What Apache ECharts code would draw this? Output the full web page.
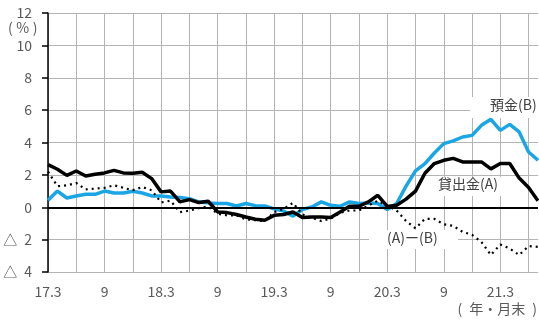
<!DOCTYPE html>
<html>
<head>
<meta charset="utf-8">
<script src="https://cdn.jsdelivr.net/npm/echarts@6/dist/echarts.min.js"></script>
<style>
  html, body { margin: 0; padding: 0; background: #fff; }
  #chart { width: 539px; height: 324px; }
</style>
</head>
<body>
<div id="chart"></div>
<script>
// Month-end points, 2017/3 – 2021/7 (labels shown every six months)
const months = [
  '17.3','4','5','6','7','8','9','10','11','12',
  '1','2','18.3','4','5','6','7','8','9','10','11','12',
  '1','2','19.3','4','5','6','7','8','9','10','11','12',
  '1','2','20.3','4','5','6','7','8','9','10','11','12',
  '1','2','21.3','4','5','6','7'
];

// 貸出金 (A), year-on-year %
const loans = [
  2.63, 2.35, 1.97, 2.24, 1.93, 2.04, 2.12, 2.28, 2.12, 2.10,
  2.16, 1.77, 0.95, 1.00, 0.33, 0.47, 0.29, 0.37, -0.29, -0.33, -0.45, -0.60,
  -0.74, -0.80, -0.50, -0.45, -0.29, -0.64, -0.60, -0.60, -0.64, -0.29, 0.06, 0.06,
  0.33, 0.74, 0.05, 0.12, 0.50, 1.00, 2.10, 2.70, 2.90, 3.02, 2.80, 2.80,
  2.80, 2.37, 2.70, 2.70, 1.80, 1.22, 0.40
];

// 預金 (B), year-on-year %
const deposits = [
  0.43, 1.00, 0.57, 0.70, 0.80, 0.80, 1.00, 0.88, 0.88, 0.99,
  0.88, 0.70, 0.70, 0.64, 0.60, 0.53, 0.33, 0.27, 0.23, 0.23, 0.08, 0.23,
  0.10, 0.08, -0.10, -0.23, -0.55, -0.14, 0.02, 0.33, 0.12, 0.06, 0.33, 0.23,
  0.27, 0.23, -0.14, 0.23, 1.30, 2.25, 2.70, 3.35, 3.93, 4.10, 4.34, 4.44,
  5.06, 5.43, 4.75, 5.12, 4.65, 3.41, 2.90
];

// (A)ー(B), percentage points
const gap = [
  2.20, 1.30, 1.35, 1.50, 1.10, 1.15, 1.20, 1.36, 1.20, 1.05,
  1.25, 1.05, 0.30, 0.40, -0.30, -0.20, -0.05, 0.05, -0.40, -0.50, -0.50, -0.75,
  -0.80, -0.85, -0.30, -0.10, 0.27, -0.45, -0.65, -0.85, -0.70, -0.35, -0.20, -0.20,
  0.10, 0.40, 0.10, -0.20, -0.85, -1.30, -0.72, -0.72, -1.05, -1.15, -1.52, -1.70,
  -2.15, -2.95, -2.30, -2.55, -2.95, -2.40, -2.45
];

const FONT = '"Noto Sans CJK JP", "Noto Sans", sans-serif';
const TEXT = '#595959';
const GRIDC = '#b4b4b4';

const chart = echarts.init(document.getElementById('chart'), null, { renderer: 'canvas' });

chart.setOption({
  animation: false,
  backgroundColor: '#ffffff',
  grid: { left: 48, right: 1, top: 13, bottom: 52, containLabel: false },
  xAxis: {
    type: 'category',
    data: months,
    boundaryGap: false,
    axisLine: { show: false },
    axisTick: { show: false },
    axisLabel: {
      interval: 5, color: TEXT, fontSize: 14, fontFamily: FONT, margin: 13
    },
    splitLine: { show: true, interval: 2, lineStyle: { color: GRIDC, width: 1 } }
  },
  yAxis: {
    type: 'value',
    min: -4, max: 12, interval: 2,
    axisLine: { show: true, lineStyle: { color: '#000', width: 1.5 } },
    axisTick: { show: true, length: 6, lineStyle: { color: '#000', width: 1.5 } },
    axisLabel: {
      color: TEXT, fontSize: 14, fontFamily: FONT, margin: 16,
      formatter: v => v < 0 ? '△\u2002' + Math.abs(v) : String(v)
    },
    splitLine: { show: true, lineStyle: { color: GRIDC, width: 1 } }
  },
  graphic: [
    { type: 'text', left: 8, top: 21, z: 5,
      style: { text: '(\u2005%\u2005)', fill: TEXT, font: '14px ' + FONT } },
    { type: 'text', right: 2, top: 302, z: 5,
      style: { text: '(\u2002年・月末\u2002)', fill: TEXT, font: '14px ' + FONT } },
    // white boxes behind the series labels
    { type: 'rect', z: 1, shape: { x: 470, y: 97, width: 69, height: 21 }, style: { fill: '#fff' } },
    { type: 'rect', z: 1, shape: { x: 433, y: 177, width: 76, height: 19 }, style: { fill: '#fff' } },
    { type: 'rect', z: 1, shape: { x: 369, y: 230, width: 89, height: 19 }, style: { fill: '#fff' } },
    { type: 'text', z: 5, left: 490, top: 98,
      style: { text: '預金(B)', fill: '#404040', font: '14px ' + FONT } },
    { type: 'text', z: 5, left: 438, top: 177,
      style: { text: '貸出金(A)', fill: '#404040', font: '14px ' + FONT } },
    { type: 'text', z: 5, left: 387, top: 231,
      style: { text: '(A)ー(B)', fill: '#404040', font: '14px ' + FONT } }
  ],
  series: [
    {
      name: '預金(B)', type: 'line', data: deposits,
      symbol: 'none', z: 3,
      lineStyle: { color: '#1AA6E4', width: 3.5 }
    },
    {
      name: '貸出金(A)', type: 'line', data: loans,
      symbol: 'none', z: 4,
      lineStyle: { color: '#000', width: 3.5 },
      markLine: {
        silent: true, symbol: 'none', label: { show: false },
        lineStyle: { color: '#000', width: 2, type: 'solid' },
        data: [{ yAxis: 0 }]
      }
    },
    {
      name: '(A)ー(B)', type: 'line', data: gap,
      symbol: 'none', z: 4,
      lineStyle: { color: '#000', width: 2.2, type: [2, 4] }
    }
  ]
});
</script>
</body>
</html>
